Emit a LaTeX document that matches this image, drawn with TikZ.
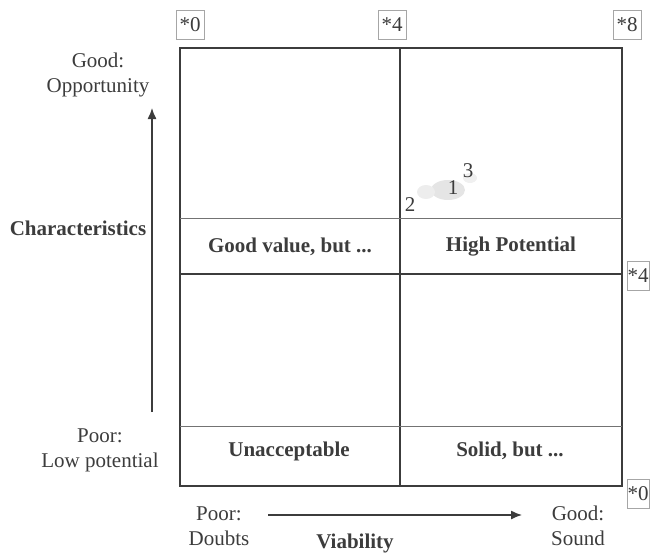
\documentclass[tikz,border=0pt]{standalone}
\usepackage{fontspec}
\setmainfont{Liberation Serif}
\usepackage{tikz}
\usetikzlibrary{positioning,arrows.meta}

\definecolor{inkgray}{HTML}{3C3C3C}

\begin{document}
\begin{tikzpicture}[x=1pt,y=-1pt,
  every node/.style={text=inkgray,font=\fontsize{21}{25}\selectfont},
  gridline/.style={draw=inkgray,line width=1.3pt},
  scalebox/.style={draw=black!35,line width=0.7pt,inner sep=3pt,fill=white,
    minimum width=28pt,minimum height=29pt},
  edgebox/.style={scalebox,anchor=east,inner xsep=0.5pt,minimum width=0pt},
  celllabel/.style={font=\fontsize{21}{25}\selectfont\bfseries},
  axislabel/.style={align=center,font=\fontsize{21}{25}\selectfont},
  axisarrow/.style={draw=inkgray,line width=1.3pt,-{Latex[length=11pt,width=9pt]}}]
\useasboundingbox (0,0) rectangle (650,552);

% Draw the frame and the quadrant lines
\coordinate (tl) at (180,48);
\coordinate (br) at (622,486);
\draw[gridline] (tl) rectangle (br);
\draw[gridline] (400,48) -- (400,486);
\draw[gridline, line width=0.8pt, draw=black!55] (180,218) -- (622,218);
\draw[gridline] (180,274) -- (622,274);
\draw[gridline, line width=0.8pt, draw=black!55] (180,426) -- (622,426);

% Quadrant labels
\node[celllabel] (goodvalue) at (290,247) {Good value, but ...};
\node[celllabel] (highpot) at (511,247) {High Potential};
\node[celllabel] (unaccept) at (289,451) {Unacceptable};
\node[celllabel] (solid) at (510,451) {Solid, but ...};

% Scale markers
\node[scalebox] (top0) at (190,25) {*0};
\node[scalebox] (top4) at (392,25) {*4};
\node[scalebox] (top8) at (627,25) {*8};
\node[edgebox] (right4) at (649.5,276) {*4};
\node[edgebox] (right0) at (649.5,494) {*0};

% Plotted items
\fill[black!10] (448,190) ellipse (17pt and 10pt);
\fill[black!7] (426,192) ellipse (9pt and 7pt);
\fill[black!6] (470,178) ellipse (7pt and 5pt);
\node[inner sep=0pt] (p2) at (410,205) {2};
\node[inner sep=0pt] (p1) at (453,188) {1};
\node[inner sep=0pt] (p3) at (468,171) {3};

% Vertical axis
\node[axislabel] (good) at (98,75) {Good:\\Opportunity};
\node[axislabel] (poor) at (100,450) {Poor:\\Low potential};
\node[celllabel] (charac) at (78,228) {Characteristics};
\coordinate (vbot) at (152,412);
\coordinate (vtop) at (152,108);
\draw[axisarrow] (vbot) -- (vtop);

% Horizontal axis
\node[axislabel] (doubts) at (219,526) {Poor:\\Doubts};
\node[axislabel] (sound) at (578,526) {Good:\\Sound};
\node[celllabel] (viab) at (355,543) {Viability};
\coordinate (hleft) at (268,515);
\coordinate (hright) at (522,515);
\draw[axisarrow] (hleft) -- (hright);

\end{tikzpicture}
\end{document}
